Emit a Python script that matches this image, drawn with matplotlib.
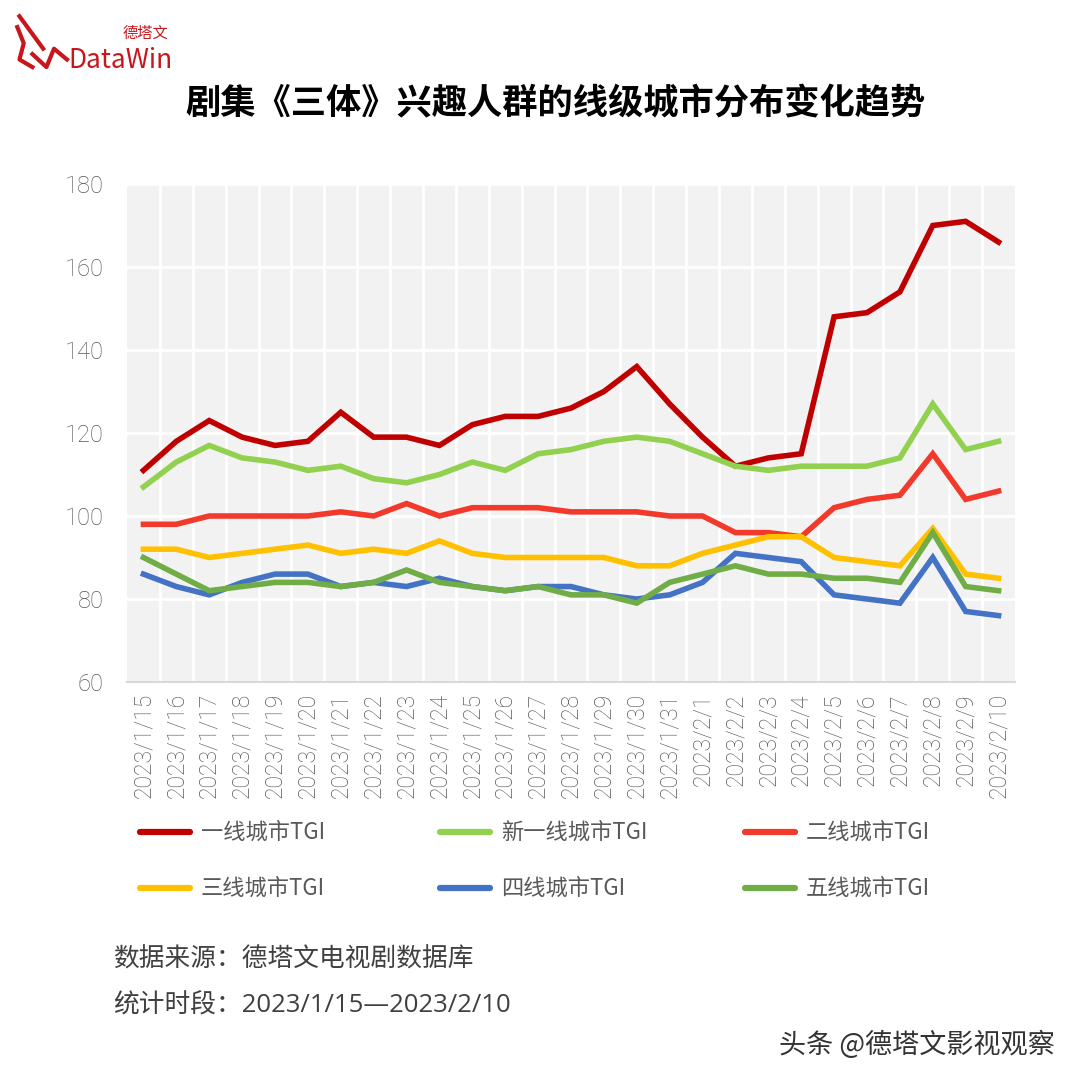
import matplotlib
matplotlib.use("Agg")
import matplotlib.pyplot as plt
from matplotlib.lines import Line2D

plt.rcParams['font.family'] = ['Noto Sans CJK SC', 'DejaVu Sans']

dates = ['2023/1/15', '2023/1/16', '2023/1/17', '2023/1/18', '2023/1/19', '2023/1/20',
         '2023/1/21', '2023/1/22', '2023/1/23', '2023/1/24', '2023/1/25', '2023/1/26',
         '2023/1/27', '2023/1/28', '2023/1/29', '2023/1/30', '2023/1/31', '2023/2/1',
         '2023/2/2', '2023/2/3', '2023/2/4', '2023/2/5', '2023/2/6', '2023/2/7',
         '2023/2/8', '2023/2/9', '2023/2/10']

tier1 = [111, 118, 123, 119, 117, 118, 125, 119, 119, 117, 122, 124, 124, 126, 130, 136,
         127, 119, 112, 114, 115, 148, 149, 154, 170, 171, 166]
new_tier1 = [107, 113, 117, 114, 113, 111, 112, 109, 108, 110, 113, 111, 115, 116, 118, 119,
             118, 115, 112, 111, 112, 112, 112, 114, 127, 116, 118]
tier2 = [98, 98, 100, 100, 100, 100, 101, 100, 103, 100, 102, 102, 102, 101, 101, 101,
         100, 100, 96, 96, 95, 102, 104, 105, 115, 104, 106]
tier3 = [92, 92, 90, 91, 92, 93, 91, 92, 91, 94, 91, 90, 90, 90, 90, 88,
         88, 91, 93, 95, 95, 90, 89, 88, 97, 86, 85]
tier4 = [86, 83, 81, 84, 86, 86, 83, 84, 83, 85, 83, 82, 83, 83, 81, 80,
         81, 84, 91, 90, 89, 81, 80, 79, 90, 77, 76]
tier5 = [90, 86, 82, 83, 84, 84, 83, 84, 87, 84, 83, 82, 83, 81, 81, 79,
         84, 86, 88, 86, 86, 85, 85, 84, 96, 83, 82]

series = [
    ('一线城市TGI', tier1, '#c00000'),
    ('新一线城市TGI', new_tier1, '#92d050'),
    ('二线城市TGI', tier2, '#f23a2c'),
    ('三线城市TGI', tier3, '#ffc000'),
    ('四线城市TGI', tier4, '#4472c4'),
    ('五线城市TGI', tier5, '#70ad47'),
]

W, H = 1080, 1082
fig = plt.figure(figsize=(W / 100, H / 100), dpi=100)
ax = fig.add_axes([127 / W, 1 - 682 / H, 888 / W, 498 / H])
ax.set_facecolor('#f2f2f2')

x = list(range(len(dates)))
for name, vals, color in series:
    ax.plot(x, vals, color=color, lw=4, solid_joinstyle='miter', label=name, zorder=3)

ax.set_xlim(-0.5, len(dates) - 0.5)
ax.set_ylim(60, 180)
ax.set_yticks(range(60, 181, 20))
ax.set_xticks(x)
ax.set_xticklabels(dates, rotation=90, fontsize=16.5, color='#595959',
                   family=['Roboto', 'DejaVu Sans'], fontweight='light')
ax.set_xticks([i + 0.5 for i in x[:-1]], minor=True)
for lab in ax.get_yticklabels():
    lab.set_fontsize(17)
    lab.set_color('#595959')
    lab.set_family(['Roboto', 'DejaVu Sans'])
    lab.set_fontweight('light')
ax.grid(axis='y', which='major', color='white', lw=2)
ax.grid(axis='x', which='minor', color='white', lw=2)
ax.set_axisbelow(True)
ax.tick_params(axis='both', which='both', length=0)
ax.tick_params(axis='y', pad=17)
ax.tick_params(axis='x', pad=8)
for s in ['top', 'right', 'left']:
    ax.spines[s].set_visible(False)
ax.spines['bottom'].set_color('#d9d9d9')
ax.spines['bottom'].set_linewidth(1.5)

# legend drawn by hand: 2 rows x 3 columns
col_x = [140, 440, 745]
row_y = [832, 888]
for i, (name, _, color) in enumerate(series):
    px = col_x[i % 3]
    py = row_y[i // 3]
    fig.add_artist(Line2D([px / W, (px + 50) / W], [1 - py / H, 1 - py / H], color=color,
                          lw=4.5, solid_capstyle='round', transform=fig.transFigure))
    fig.text((px + 61) / W, 1 - py / H, name, fontsize=16, color='#595959',
             va='center', ha='left')

fig.text(555 / W, 1 - 104 / H, '剧集《三体》兴趣人群的线级城市分布变化趋势', ha='center', va='center',
         fontsize=25.4, fontweight='bold', color='#000000')

fig.text(113 / W, 1 - 960 / H, '数据来源：德塔文电视剧数据库', fontsize=18.5, color='#404040', va='center')
fig.text(113 / W, 1 - 1006 / H, '统计时段：2023/1/15—2023/2/10', fontsize=18.5, color='#404040',
         va='center', family=['Open Sans', 'Noto Sans CJK SC'])
fig.text(1055 / W, 1 - 1045 / H, '头条 @德塔文影视观察', fontsize=19.5, color='#333333', va='center', ha='right')

# logo
red = '#c8161d'
fig.text(68 / W, 1 - 60 / H, 'DataWin', fontsize=19, color=red, va='center', ha='left')
fig.text(123 / W, 1 - 33 / H, '德塔文', fontsize=11, color=red, va='center', ha='left')
logo = [([0.016, 0.022, 0.018, 0.030], [0.975, 0.960, 0.945, 0.938]),
        ([0.018, 0.040], [0.985, 0.955]),
        ([0.030, 0.043, 0.050, 0.062], [0.950, 0.938, 0.955, 0.945])]
for lx, ly in logo:
    fig.add_artist(Line2D(lx, ly, color=red, lw=3, transform=fig.transFigure))

fig.savefig('out.png', dpi=100, facecolor='white')
